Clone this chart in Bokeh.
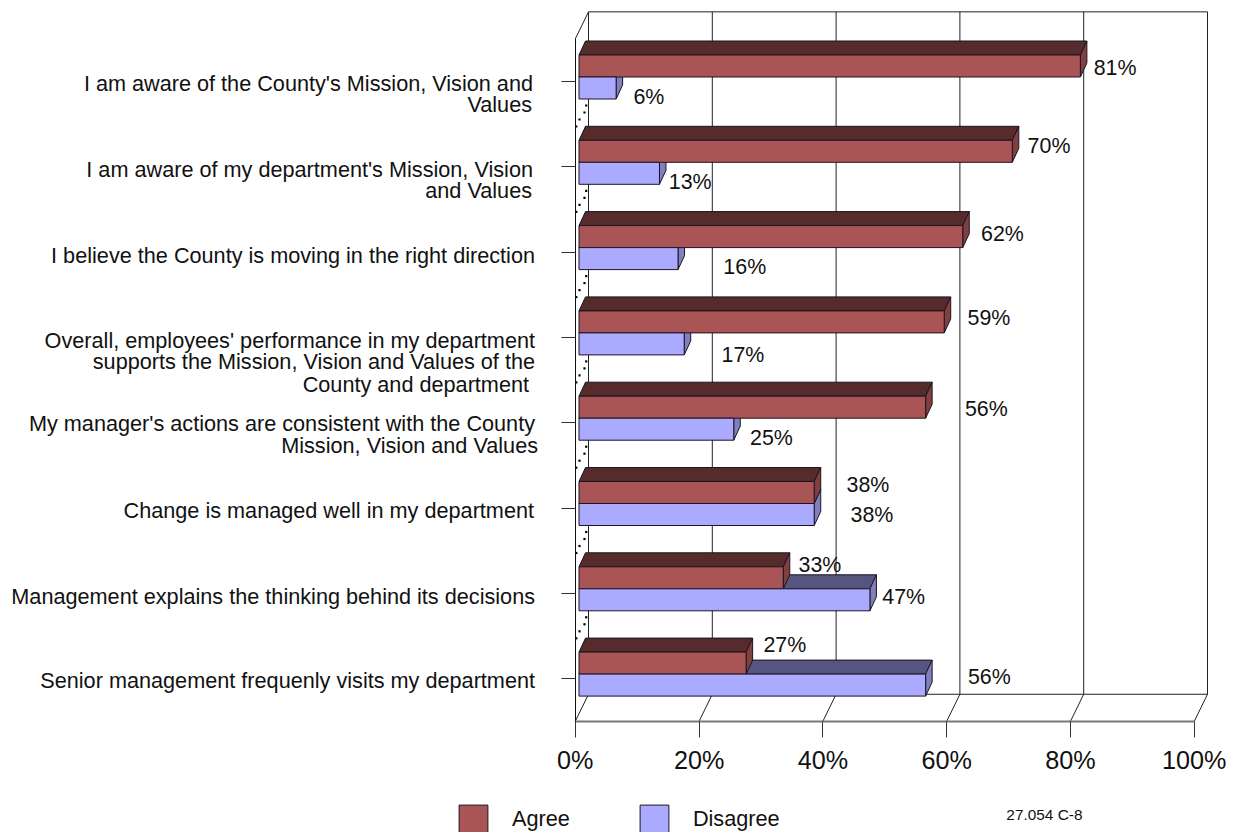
from bokeh.plotting import figure
from bokeh.models import ColumnDataSource, LinearAxis, FixedTicker, PrintfTickFormatter, Legend, LegendItem, Range1d
from bokeh.core.properties import value
from bokeh.embed import file_html
from bokeh.resources import INLINE

categories = [
    "I am aware of the County's Mission, Vision and\nValues",
    "I am aware of my department's Mission, Vision\nand Values",
    "I believe the County is moving in the right direction",
    "Overall, employees' performance in my department\nsupports the Mission, Vision and Values of the\nCounty and department",
    "My manager's actions are consistent with the County\nMission, Vision and Values",
    "Change is managed well in my department",
    "Management explains the thinking behind its decisions",
    "Senior management frequenly visits my department",
]
agree = [81, 70, 62, 59, 56, 38, 33, 27]
disagree = [6, 13, 16, 17, 25, 38, 47, 56]
x_ticks = [0, 20, 40, 60, 80, 100]
series_names = ["Agree", "Disagree"]
footer_note = "27.054 C-8"

FONT = "Liberation Sans"
W, H = 1233, 832
PX_X, PX_Y = 6.19, 85.3
ORIGIN_X, ORIGIN_Y = 574.8, 81.0   # page pixel of 0 % / first category


def fx(px):
    return px / PX_X


def fy(px):
    return px / PX_Y


p = figure(width=W, height=H, output_backend="svg", toolbar_location=None,
           x_axis_location=None, y_axis_location=None, min_border=0,
           x_range=Range1d((0 - ORIGIN_X) / PX_X, (W - ORIGIN_X) / PX_X),
           y_range=Range1d((H - ORIGIN_Y) / PX_Y, (0 - ORIGIN_Y) / PX_Y))
p.outline_line_color = None
p.grid.visible = False
p.background_fill_color = "white"
p.border_fill_color = "white"

n = len(categories)
y_top, y_bot = -0.5, n - 0.5
wall_dx, wall_dy = fx(13.2), fy(-27)
WALL = "#222222"

# back wall, floor, side wall
back_xs = [[t + wall_dx, t + wall_dx] for t in x_ticks]
back_ys = [[y_top + wall_dy, y_bot + wall_dy] for t in x_ticks]
p.multi_line(back_xs, back_ys, line_color=WALL, line_width=1)
p.multi_line([[x_ticks[0] + wall_dx, x_ticks[-1] + wall_dx]] * 2,
             [[y_top + wall_dy] * 2, [y_bot + wall_dy] * 2], line_color=WALL, line_width=1)
p.multi_line([[t, t + wall_dx] for t in x_ticks],
             [[y_bot, y_bot + wall_dy] for t in x_ticks], line_color=WALL, line_width=1)
p.line([0, wall_dx], [y_top, y_top + wall_dy], line_color=WALL, line_width=1)

# dotted side wall pattern in the gaps between the groups
dot_x, dot_y = [], []
for i in range(n - 1):
    for ox, oy in [(10.9, 24), (9.2, 31), (4.2, 38), (1.0, 45)]:
        dot_x.append(fx(ox))
        dot_y.append(i + fy(oy))
p.scatter(dot_x, dot_y, marker="square", size=2.2, fill_color="black", line_color=None)

# bars
BAR_X0 = fx(3.7)
BAR_H = fy(22)
BAR_SHIFT = fy(-4.5)
ddx, ddy = fx(6.5), fy(-14)
FRONT = {"Agree": "#AA5555", "Disagree": "#AAAAFF"}
TOP = {"Agree": "#552B2B", "Disagree": "#55557F"}
SIDE = {"Agree": "#804040", "Disagree": "#8080BF"}
EDGE = "#1c1420"


def faces(vals, row):
    tops, sides, fronts = ([], []), ([], []), ([], [])
    for i, v in enumerate(vals):
        x1 = BAR_X0 + v
        a = i + BAR_SHIFT + (row - 1) * BAR_H
        b = a + BAR_H
        fronts[0].append([BAR_X0, x1, x1, BAR_X0])
        fronts[1].append([a, a, b, b])
        tops[0].append([BAR_X0, x1, x1 + ddx, BAR_X0 + ddx])
        tops[1].append([a, a, a + ddy, a + ddy])
        sides[0].append([x1, x1 + ddx, x1 + ddx, x1])
        sides[1].append([a, a + ddy, b + ddy, b])
    return tops, sides, fronts


a_t, a_s, a_f = faces(agree, 0)
d_t, d_s, d_f = faces(disagree, 1)
lw = 1
for i in range(n):
    p.patch(d_t[0][i], d_t[1][i], fill_color=TOP["Disagree"], line_color=EDGE, line_width=lw)
    p.patch(d_s[0][i], d_s[1][i], fill_color=SIDE["Disagree"], line_color=EDGE, line_width=lw)
    p.patch(a_t[0][i], a_t[1][i], fill_color=TOP["Agree"], line_color=EDGE, line_width=lw)
    p.patch(a_s[0][i], a_s[1][i], fill_color=SIDE["Agree"], line_color=EDGE, line_width=lw)
r_agree = p.patches(a_f[0], a_f[1], fill_color=FRONT["Agree"], line_color=EDGE, line_width=lw)
r_dis = p.patches(d_f[0], d_f[1], fill_color=FRONT["Disagree"], line_color=EDGE, line_width=lw)

# axes, drawn inside the frame
xaxis = LinearAxis(fixed_location=y_bot, ticker=FixedTicker(ticks=x_ticks),
                   formatter=PrintfTickFormatter(format="%d%%"), bounds=(0, 100),
                   major_label_text_font=FONT, major_label_text_font_size="25.2px",
                   major_label_text_color="#111111", major_label_standoff=9,
                   major_tick_in=0, major_tick_out=16, minor_tick_line_color=None,
                   axis_line_color="#777777", axis_line_width=2, major_tick_line_color="#333333")
p.add_layout(xaxis, "below")
yaxis = LinearAxis(fixed_location=0, ticker=FixedTicker(ticks=list(range(n))),
                   major_label_overrides={i: "" for i in range(n)}, bounds=(y_top, y_bot),
                   major_tick_in=0, major_tick_out=14, minor_tick_line_color=None,
                   axis_line_color="#111111", major_tick_line_color="#333333")
p.add_layout(yaxis, "left")

# value labels: nudges in pixels from the bar's end
nudge_a = [(17, -14), (19, -21), (22, -18), (27, -19), (43, -14), (36, -23), (19, -28), (21, -34)]
nudge_d = [(21, 15), (13, 15), (49, 15), (41, 18), (20, 15), (40, 7), (16, 4), (46, -2)]
tx, ty, tt, dx_, dy_ = [], [], [], [], []
for i in range(n):
    tx += [agree[i], disagree[i]]
    ty += [i, i]
    tt += [f"{agree[i]}%", f"{disagree[i]}%"]
    dx_ += [nudge_a[i][0], nudge_d[i][0]]
    dy_ += [nudge_a[i][1], nudge_d[i][1]]
src = ColumnDataSource(dict(x=tx, y=ty, t=tt, dx=dx_, dy=dy_))
p.text("x", "y", text="t", x_offset="dx", y_offset="dy", source=src,
       text_font=value(FONT), text_font_size="21.4px", text_color="#111111",
       text_align="left", text_baseline="middle")

# category labels, line by line
LABEL_RIGHT = (534.5 - ORIGIN_X) / PX_X
line_nudge = {
    0: [(-2, 2), (-3, 23)],
    1: [(-2, 3), (-3, 24)],
    2: [(0, 3)],
    3: [(0, 3), (0, 24), (-6, 47)],
    4: [(0, 1), (3, 23)],
    5: [(-1, 2)],
    6: [(0, 3)],
    7: [(0, 2)],
}
lx, ly, lt, ldx, ldy = [], [], [], [], []
for i, c in enumerate(categories):
    for (ox, oy), s in zip(line_nudge[i], c.split("\n")):
        lx.append(LABEL_RIGHT)
        ly.append(i)
        lt.append(s)
        ldx.append(ox)
        ldy.append(oy)
src2 = ColumnDataSource(dict(x=lx, y=ly, t=lt, dx=ldx, dy=ldy))
p.text("x", "y", text="t", x_offset="dx", y_offset="dy", source=src2,
       text_font=value(FONT), text_font_size="21.67px", text_color="#111111",
       text_align="right", text_baseline="middle")

# footer note
p.text([fx(1082 - ORIGIN_X)], [fy(814 - ORIGIN_Y)], text=[footer_note],
       text_font=value(FONT), text_font_size="15.4px", text_color="#111111",
       text_align="right", text_baseline="middle")

legend = Legend(items=[LegendItem(label=series_names[0], renderers=[r_agree]),
                       LegendItem(label=series_names[1], renderers=[r_dis])],
                location=(455, -5), orientation="horizontal", padding=0, margin=0, spacing=66,
                glyph_width=36, glyph_height=36, label_standoff=21, label_height=36,
                label_text_font=FONT, label_text_font_size="21.7px", label_text_color="#111111",
                border_line_color=None, background_fill_color=None, background_fill_alpha=0)
p.add_layout(legend, "center")

open("out.html", "w").write(file_html(p, INLINE))
